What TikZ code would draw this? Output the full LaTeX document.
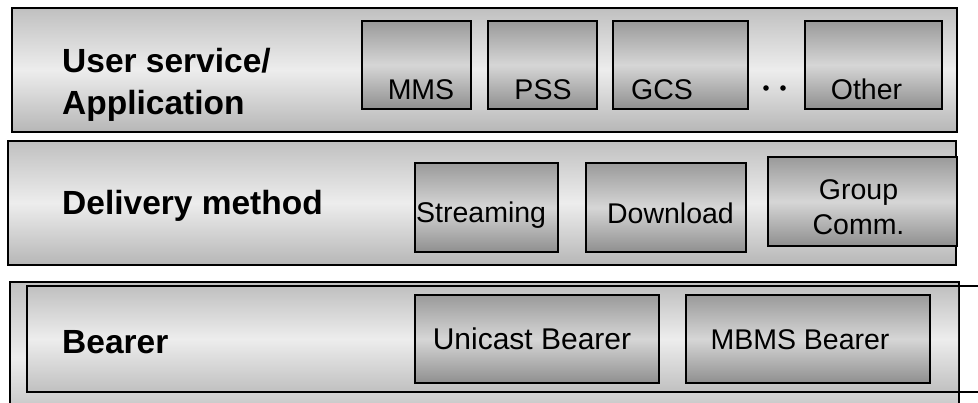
\documentclass[tikz,border=0pt]{standalone}
\usepackage{fontspec}
\usepackage{tikz}
\usetikzlibrary{positioning}
\setmainfont{Liberation Sans}
\definecolor{capa}{RGB}{192,192,192}
\definecolor{capaluz}{RGB}{237,237,237}
\definecolor{bloq}{RGB}{154,154,154}
\definecolor{bloqluz}{RGB}{214,214,214}
\definecolor{bloqos}{RGB}{143,143,143}
\tikzset{
  capa/.style={draw=black, line width=1.2pt, rectangle, inner sep=0pt, top color=capa, bottom color=capa!95!black, middle color=capaluz},
  bloque/.style={draw=black, line width=1.2pt, rectangle, inner sep=0pt, minimum height=88pt, top color=bloq, bottom color=bloqos, middle color=bloqluz},
  tit/.style={anchor=base west, align=left, inner sep=0pt, font=\fontsize{33.5}{42}\selectfont\bfseries},
  et/.style={anchor=base, align=center, inner sep=0pt, font=\fontsize{28.5}{35}\selectfont},
}
\begin{document}
\begin{tikzpicture}[x=1pt, y=-1pt]
  \useasboundingbox (0,0) rectangle (978,403);
  % layers
  \node[capa, minimum width=945pt, minimum height=124pt] (app) at (484.5,70) {};
  \node[capa, minimum width=948pt, minimum height=124pt] (dlv) at (482,203) {};
  \node[capa, minimum width=949pt, minimum height=150pt] (brr) at (484.5,357) {};
  \path[top color=capa, bottom color=capa, middle color=capaluz] (27,286) rectangle (958,392);
  \coordinate (bt) at (990,286);
  \coordinate (bb) at (990,392);
  \draw[line width=1.2pt] (bt) -| (27,392) -- (bb);
  % user services
  \node[tit] (tapp) at (62,115) {User service/\\Application};
  \node[bloque, minimum width=109pt] (mms) at (416.5,65) {};
  \node[bloque, minimum width=109pt] (pss) at (542.5,65) {};
  \node[bloque, minimum width=135pt] (gcs) at (680.5,65) {};
  \node[bloque, minimum width=137pt] (oth) at (873.5,65) {};
  \node[et] (tmms) at (421,100) {MMS};
  \node[et] (tpss) at (543,100) {PSS};
  \node[et] (tgcs) at (662,100) {GCS};
  \node[et] (toth) at (866.5,100) {Other};
  \fill (766,88) circle (2.8pt) (783,88) circle (2.8pt);
  % delivery
  \node[tit] (tdlv) at (62,215) {Delivery method};
  \node[bloque, minimum width=143pt, minimum height=89pt] (str) at (486.5,207.5) {};
  \node[bloque, minimum width=160pt, minimum height=89pt] (dwn) at (666,207.5) {};
  \node[bloque, minimum width=189pt, minimum height=89pt] (grp) at (862.5,201.5) {};
  \node[et, anchor=base west] (tstr) at (416,223) {Streaming};
  \node[et] (tdwn) at (670.5,224) {Download};
  \node[et] (tgrp) at (858.5,235) {Group\\Comm.};
  % bearer
  \node[tit] (tbrr) at (62,354) {Bearer};
  \node[bloque, minimum width=244pt] (uni) at (537,339) {};
  \node[bloque, minimum width=244pt] (mbm) at (808,339) {};
  \node[et, font=\fontsize{30}{35}\selectfont] (tuni) at (532,350) {Unicast Bearer};
  \node[et] (tmbm) at (800,350) {MBMS Bearer};
\end{tikzpicture}
\end{document}
